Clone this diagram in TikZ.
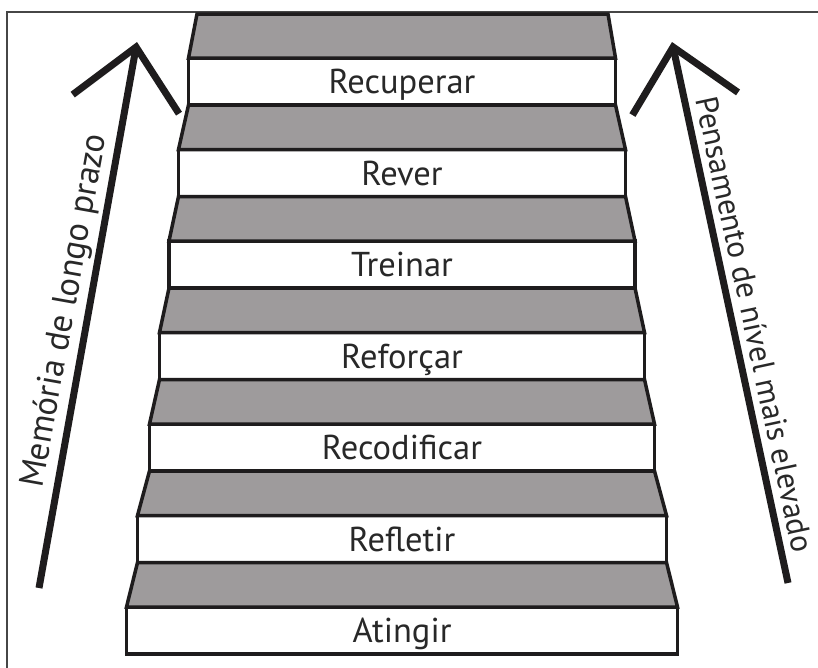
\documentclass[tikz,border=0pt]{standalone}
\usepackage{fontspec}
\setmainfont{PT Sans}
\usepackage{tikz}
\usetikzlibrary{arrows.meta,positioning}
\definecolor{stairline}{RGB}{30,28,29}
\definecolor{treadgray}{RGB}{158,155,156}
\definecolor{labelgray}{RGB}{40,40,40}
\definecolor{framegray}{RGB}{70,70,70}
\newcommand{\stepfont}{\fontsize{34.5}{40}\selectfont}
\tikzstyle{riser} = [rectangle, draw=stairline, line width=3.5pt, fill=white, text=labelgray, font=\stepfont, minimum height=47pt, inner sep=0pt, outer sep=0pt, text height=24pt, text depth=0pt]
\tikzstyle{tread} = [draw=stairline, line width=3.5pt, fill=treadgray, line join=miter]
\tikzstyle{bigarrow} = [draw=stairline, line width=7pt, -{Straight Barb[length=58pt, width=108pt]}]
\tikzstyle{armlabel} = [text=labelgray, inner sep=2pt]
\tikzstyle{frame} = [draw=framegray, line width=1.2pt]

\begin{document}
\begin{tikzpicture}[x=1pt, y=-1pt]
\useasboundingbox (0,0) rectangle (818,667);

% frame =============================
\draw[frame] (7,670) -- (7,12) -- (822,12);

% risers, top to bottom
\node[riser, minimum width=427pt] (r1) at (402,81.5) {Recuperar};
\node[riser, minimum width=447pt, below=44.5pt of r1] (r2) {Rever};
\node[riser, minimum width=466pt, below=44.5pt of r2] (r3) {Treinar};
\node[riser, minimum width=485pt, below=44.5pt of r3] (r4) {Reforçar};
\node[riser, minimum width=505pt, below=44.5pt of r4] (r5) {Recodificar};
\node[riser, minimum width=529pt, below=44.5pt of r5] (r6) {Refletir};
\node[riser, minimum width=551pt, below=44.5pt of r6] (r7) {Atingir};

% treads
\coordinate (topl) at (197,14);
\coordinate (topr) at (608,14);
\path[tread] (topl) -- (topr) -- (r1.north east) -- (r1.north west) -- cycle;
\path[tread] (r1.south west) -- (r1.south east) -- (r2.north east) -- (r2.north west) -- cycle;
\path[tread] (r2.south west) -- (r2.south east) -- (r3.north east) -- (r3.north west) -- cycle;
\path[tread] (r3.south west) -- (r3.south east) -- (r4.north east) -- (r4.north west) -- cycle;
\path[tread] (r4.south west) -- (r4.south east) -- (r5.north east) -- (r5.north west) -- cycle;
\path[tread] (r5.south west) -- (r5.south east) -- (r6.north east) -- (r6.north west) -- cycle;
\path[tread] (r6.south west) -- (r6.south east) -- (r7.north east) -- (r7.north west) -- cycle;

% side arrows
\coordinate (memtail) at (39,588);
\coordinate (memtip) at (137,42);
\coordinate (pentail) at (788,583);
\coordinate (pentip) at (672,42);

\path[bigarrow] (memtail) -- node[armlabel, font=\fontsize{34.5}{40}\selectfont, sloped, above=1pt, pos=0.5] {Memória de longo prazo} (memtip);
\path[bigarrow] (pentail) -- node[armlabel, font=\fontsize{31.5}{38}\selectfont, sloped, above=5pt, pos=0.47] {Pensamento de nível mais elevado} (pentip);

\end{tikzpicture}
\end{document}
